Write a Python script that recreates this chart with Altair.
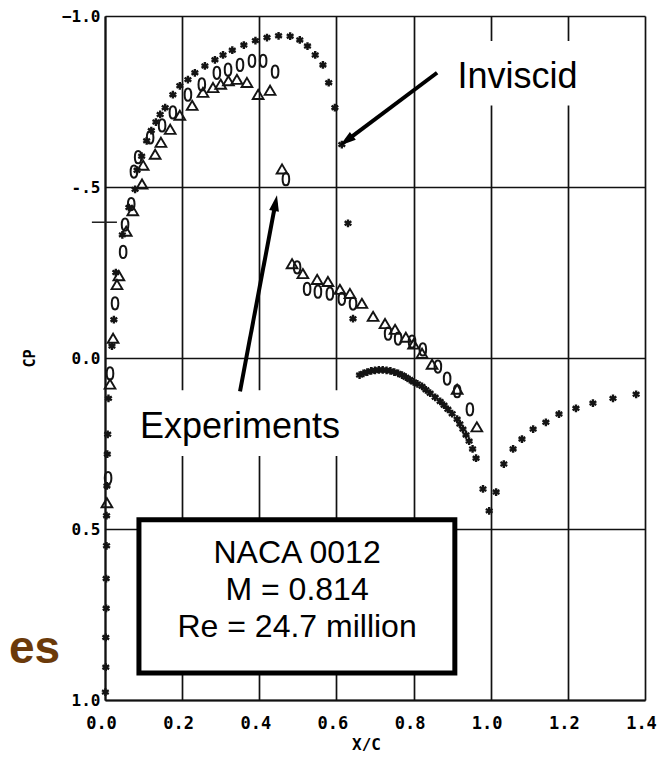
import altair as alt
import pandas as pd

# ---------------- data ----------------
# Inviscid solution (asterisks)
inv_x = [0.001, 0.002, 0.002, 0.003, 0.003, 0.004, 0.004, 0.005, 0.006, 0.007, 0.009,
         0.018, 0.023, 0.028, 0.045, 0.062, 0.078, 0.083, 0.095, 0.108, 0.120, 0.132,
         0.143, 0.156, 0.176, 0.194, 0.215, 0.233, 0.259, 0.285, 0.306, 0.330, 0.360,
         0.390, 0.420, 0.450, 0.480, 0.505, 0.525, 0.545, 0.565, 0.580, 0.596, 0.614,
         0.630, 0.643,
         0.660, 0.670, 0.680, 0.690, 0.700, 0.710, 0.720, 0.730, 0.740, 0.750, 0.760,
         0.770, 0.780, 0.790, 0.800, 0.810, 0.822, 0.832, 0.843, 0.856, 0.869, 0.879,
         0.889, 0.900, 0.913, 0.920, 0.928, 0.936, 0.944, 0.953, 0.962, 0.980, 0.996,
         1.014, 1.034, 1.058, 1.081, 1.110, 1.143, 1.177, 1.221, 1.265, 1.317, 1.377]
inv_cp = [0.977, 0.904, 0.817, 0.732, 0.645, 0.549, 0.461, 0.374, 0.281, 0.223, 0.118,
          -0.035, -0.112, -0.250, -0.360, -0.440, -0.493, -0.549, -0.590, -0.635, -0.665, -0.690,
          -0.712, -0.732, -0.770, -0.796, -0.814, -0.834, -0.854, -0.872, -0.886, -0.900, -0.915,
          -0.928, -0.937, -0.942, -0.941, -0.930, -0.912, -0.886, -0.857, -0.805, -0.732, -0.624,
          -0.394, -0.115,
          0.050, 0.045, 0.041, 0.038, 0.036, 0.035, 0.035, 0.036, 0.038, 0.041, 0.045,
          0.050, 0.056, 0.063, 0.070, 0.076, 0.083, 0.093, 0.103, 0.115, 0.127, 0.138,
          0.150, 0.163, 0.179, 0.193, 0.208, 0.225, 0.243, 0.266, 0.293, 0.383, 0.447,
          0.392, 0.310, 0.266, 0.237, 0.208, 0.188, 0.164, 0.147, 0.132, 0.118, 0.106]

# Experiments, circles
circ_x = [0.008, 0.013, 0.026, 0.047, 0.052, 0.068, 0.075, 0.086, 0.117, 0.148, 0.176,
          0.215, 0.251, 0.290, 0.319, 0.350, 0.381, 0.410, 0.441, 0.469,
          0.498, 0.524, 0.552, 0.583, 0.614, 0.643,
          0.734, 0.760, 0.796, 0.824, 0.863, 0.887, 0.913, 0.946]
circ_cp = [0.351, 0.045, -0.160, -0.310, -0.390, -0.450, -0.545, -0.587, -0.645, -0.680, -0.718,
           -0.770, -0.800, -0.834, -0.843, -0.857, -0.869, -0.869, -0.837, -0.523,
           -0.265, -0.202, -0.194, -0.188, -0.173, -0.159,
           -0.071, -0.057, -0.048, -0.025, 0.025, 0.060, 0.097, 0.150]

# Experiments, triangles
tri_x = [0.005, 0.013, 0.021, 0.031, 0.036, 0.055, 0.072, 0.096, 0.099, 0.130, 0.145,
         0.169, 0.194, 0.226, 0.254, 0.280, 0.300, 0.320, 0.342, 0.368, 0.397, 0.428,
         0.459, 0.485, 0.513, 0.550, 0.578, 0.609, 0.635, 0.666, 0.695, 0.726, 0.752,
         0.780, 0.800, 0.822, 0.848, 0.913, 0.964]
tri_cp = [0.424, 0.077, -0.057, -0.214, -0.240, -0.370, -0.430, -0.508, -0.563, -0.595, -0.630,
          -0.668, -0.709, -0.738, -0.776, -0.790, -0.800, -0.810, -0.814, -0.805, -0.770, -0.782,
          -0.552, -0.275, -0.246, -0.229, -0.223, -0.200, -0.188, -0.159, -0.121, -0.100, -0.083,
          -0.060, -0.040, -0.013, 0.019, 0.092, 0.202]

x_ticks = [0.0, 0.2, 0.4, 0.6, 0.8, 1.0, 1.2, 1.4]
y_ticks = [-1.0, -0.5, 0.0, 0.5, 1.0]

# annotation texts / anchors (data units)
info_lines = ["NACA 0012", "M = 0.814", "Re = 24.7 million"]
info_cp = [0.598, 0.708, 0.817]
labels = ["Inviscid", "Experiments"]
label_x = [1.0695, 0.35]
label_cp = [-0.790, 0.234]
arrow_tail_x = [0.861, 0.350]
arrow_tail_cp = [-0.834, 0.0975]
arrow_head_x = [0.626, 0.442]
arrow_head_cp = [-0.6355, -0.453]
arrow_angle = [233, 10.6]

# ---------------- chart ----------------
W, H = 540, 684
xscale = alt.Scale(domain=[0, 1.4], nice=False, zero=False)
yscale = alt.Scale(domain=[-1, 1], reverse=True, nice=False, zero=False)

xaxis = alt.Axis(values=x_ticks, format=".1f", grid=True, gridColor="#111111", gridWidth=1.7,
                 gridOpacity=1, domainColor="#111111", domainWidth=2, ticks=False,
                 labelFont="DejaVu Sans Mono", labelFontWeight="bold", labelFontSize=17,
                 labelColor="#000000", labelPadding=15, labelOffset=-4, labelFlush=False,
                 labelOverlap=False, title="X/C", titleFont="DejaVu Sans Mono",
                 titleFontWeight="bold", titleFontSize=16, titleColor="#000000",
                 titleX=261, titleY=36, titleBaseline="top", titleAlign="center")
yaxis = alt.Axis(values=y_ticks, grid=True, gridColor="#111111", gridWidth=1.7, gridOpacity=1,
                 domainColor="#111111", domainWidth=2, ticks=False,
                 labelExpr="datum.value == -0.5 ? '-.5' : format(datum.value, '.1f')",
                 labelFont="DejaVu Sans Mono", labelFontWeight="bold", labelFontSize=16,
                 labelColor="#000000", labelPadding=5, labelFlush=False, labelOverlap=False,
                 title="CP", titleFont="DejaVu Sans Mono", titleFontWeight="bold",
                 titleFontSize=15, titleColor="#000000", titleX=-68, titleY=342,
                 titleAngle=-90, titleBaseline="bottom", titleAlign="center")

X = alt.X("x:Q", scale=xscale, axis=xaxis)
Y = alt.Y("cp:Q", scale=yscale, axis=yaxis)

inv_df = pd.DataFrame({"x": inv_x, "cp": inv_cp})
circ_df = pd.DataFrame({"x": circ_x, "cp": circ_cp})
tri_df = pd.DataFrame({"x": tri_x, "cp": tri_cp})

# white backgrounds behind the callout labels
bg_df = pd.DataFrame({"x": [0.881, 0.060], "x2": [1.263, 0.640],
                      "cp": [-0.927, 0.0946], "cp2": [-0.738, 0.2868]})
bg = alt.Chart(bg_df).mark_rect(color="white").encode(
    x=X, x2="x2:Q", y=Y, y2="cp2:Q")

asterisk = "M0,-1L0,1M-0.87,-0.5L0.87,0.5M-0.87,0.5L0.87,-0.5"
oval = "M0,-1C0.72,-1 0.72,1 0,1C-0.72,1 -0.72,-1 0,-1Z"
tri_path = "M0,-0.9L1,0.8L-1,0.8Z"

inv_layer = alt.Chart(inv_df).mark_point(shape=asterisk, filled=False, size=60, strokeWidth=2.4,
                                         color="#141414", opacity=1).encode(x=X, y=Y)
circ_layer = alt.Chart(circ_df).mark_point(shape=oval, filled=False, size=150, strokeWidth=2,
                                           color="#141414", opacity=1).encode(x=X, y=Y)
tri_layer = alt.Chart(tri_df).mark_point(shape=tri_path, filled=False, size=115, strokeWidth=1.9,
                                         color="#141414", opacity=1).encode(x=X, y=Y)

# NACA info box
box_df = pd.DataFrame({"x": [0.088], "x2": [0.907], "cp": [0.473], "cp2": [0.921]})
box = alt.Chart(box_df).mark_rect(fill="white", stroke="black", strokeWidth=5).encode(
    x=X, x2="x2:Q", y=Y, y2="cp2:Q")
info_df = pd.DataFrame({"x": [0.498] * 3, "cp": info_cp, "t": info_lines})
info = alt.Chart(info_df).mark_text(font="Liberation Sans", fontSize=32, color="black",
                                    align="center", baseline="alphabetic").encode(
    x=X, y=Y, text="t:N")

# callout labels
lab_df = pd.DataFrame({"x": label_x, "cp": label_cp, "t": labels})
lab = alt.Chart(lab_df).mark_text(font="Liberation Sans", fontSize=36, color="black",
                                  align="center", baseline="alphabetic").encode(
    x=X, y=Y, text="t:N")

# arrows
arr_df = pd.DataFrame({"x": arrow_tail_x, "cp": arrow_tail_cp,
                       "x2": arrow_head_x, "cp2": arrow_head_cp})
arr = alt.Chart(arr_df).mark_rule(strokeWidth=4, color="black").encode(
    x=X, y=Y, x2="x2:Q", y2="cp2:Q")
head_df = pd.DataFrame({"x": arrow_head_x, "cp": arrow_head_cp, "a": arrow_angle})
head = alt.Chart(head_df).mark_point(shape="M0,-1L0.62,1L-0.62,1Z", filled=True, size=256,
                                     color="black", opacity=1).encode(
    x=X, y=Y, angle=alt.Angle("a:Q", scale=None))

# stray tick on the left and leftover slide text
stray_df = pd.DataFrame({"x": [-0.034], "x2": [0.031], "cp": [-0.397]})
stray = alt.Chart(stray_df).mark_rule(strokeWidth=1.5, color="#222222").encode(
    x=X, x2="x2:Q", y=Y)
es_df = pd.DataFrame({"x": [-0.249], "cp": [0.892], "t": ["es"]})
es = alt.Chart(es_df).mark_text(font="Liberation Sans", fontSize=46, fontWeight="bold",
                                color="#6B3A0A", align="left", baseline="alphabetic").encode(
    x=X, y=Y, text="t:N")

chart = alt.layer(bg, inv_layer, circ_layer, tri_layer, stray, box, info, lab, arr, head, es).properties(
    width=W, height=H,
    autosize=alt.AutoSizeParams(type="none"),
    padding={"left": 97, "top": 8, "right": 13, "bottom": 55},
    background="white",
).configure_view(strokeWidth=0)

chart.save("out.html", embed_options={"renderer": "svg", "actions": False})
